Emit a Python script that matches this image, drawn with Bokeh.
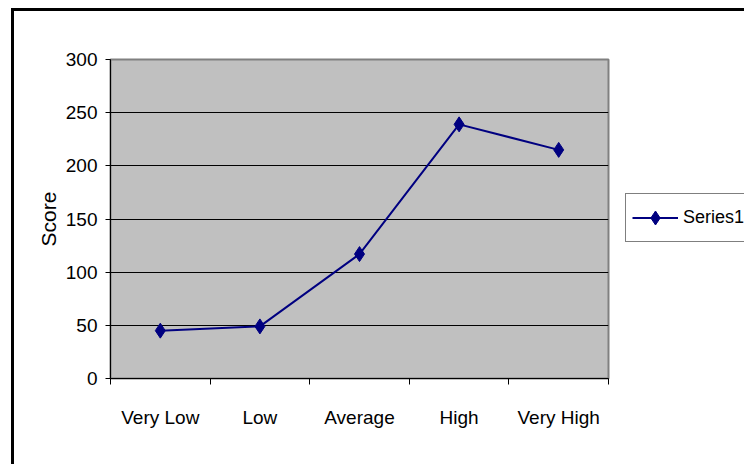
from bokeh.plotting import figure
from bokeh.layouts import row
from bokeh.models import (ColumnDataSource, FixedTicker, Legend, LegendItem,
                          Range1d)
from bokeh.embed import file_html
from bokeh.resources import INLINE

# Data
categories = ["Very Low", "Low", "Average", "High", "Very High"]
scores = [45, 49, 117, 239, 215]
y_ticks = [0, 50, 100, 150, 200, 250, 300]
series_name = "Series1"

FONT = "Liberation Sans"
NAVY = "#000080"

xs = [i + 0.5 for i in range(len(categories))]
src = ColumnDataSource(dict(x=xs, y=scores, cat=categories))

# Main plot
p = figure(width=604, height=453, output_backend="svg", toolbar_location=None,
           x_range=Range1d(0, len(categories)), y_range=Range1d(0, 300),
           min_border_left=96, min_border_right=10,
           min_border_top=48, min_border_bottom=86)

p.background_fill_color = "#C0C0C0"
p.border_fill_color = "white"
p.outline_line_color = "#808080"
p.outline_line_width = 2

# Category labels at centres, ticks at the boundaries between categories
p.xaxis.ticker = FixedTicker(ticks=xs, minor_ticks=list(range(len(categories) + 1)))
p.xaxis.major_label_overrides = {x: c for x, c in zip(xs, categories)}
p.xaxis.major_tick_line_color = None
p.xaxis.major_tick_out = 0
p.xaxis.major_tick_in = 0
p.xaxis.minor_tick_out = 6
p.xaxis.minor_tick_in = 0
p.xaxis.minor_tick_line_color = "black"
p.xaxis.major_label_standoff = 22
p.xaxis.axis_line_color = "black"

p.yaxis.ticker = FixedTicker(ticks=y_ticks)
p.yaxis.major_tick_out = 5
p.yaxis.major_tick_in = 0
p.yaxis.minor_tick_line_color = None
p.yaxis.major_label_standoff = 8
p.yaxis.axis_line_color = "black"
p.yaxis.axis_label = "Score"
p.yaxis.axis_label_text_font = FONT
p.yaxis.axis_label_text_font_size = "21px"
p.yaxis.axis_label_text_font_style = "normal"
p.yaxis.axis_label_text_color = "black"
p.yaxis.axis_label_standoff = 3

for ax in (p.xaxis, p.yaxis):
    ax.major_label_text_font = FONT
    ax.major_label_text_font_size = "19px"
    ax.major_label_text_color = "black"

p.xgrid.grid_line_color = None
p.ygrid.ticker = FixedTicker(ticks=y_ticks)
p.ygrid.grid_line_color = "black"
p.ygrid.grid_line_width = 1

p.line("x", "y", source=src, line_color=NAVY, line_width=2)
p.scatter("x", "y", source=src, marker="diamond", size=15,
          fill_color=NAVY, line_color=NAVY)

# Legend panel to the right of the plot
q = figure(width=126, height=453, output_backend="svg", toolbar_location=None,
           x_range=Range1d(0, 1), y_range=Range1d(0, 1),
           x_axis_type=None, y_axis_type=None,
           min_border_left=0, min_border_right=0,
           min_border_top=0, min_border_bottom=0)
q.outline_line_color = None
q.background_fill_color = "white"
q.border_fill_color = "white"
q.xgrid.grid_line_color = None
q.ygrid.grid_line_color = None

# Key glyphs sit outside the panel's range, so only the legend shows them
hidden = ColumnDataSource(dict(x=[5, 6], y=[5, 6]))
key_line = q.line("x", "y", source=hidden, line_color=NAVY, line_width=2)
key_pts = q.scatter("x", "y", source=hidden, marker="diamond", size=15,
                    fill_color=NAVY, line_color=NAVY)

legend = Legend(items=[LegendItem(label=series_name, renderers=[key_line, key_pts])],
                location=(7, 136), border_line_color="black",
                border_line_width=1, background_fill_color="white",
                background_fill_alpha=1, label_text_font=FONT,
                label_text_color="black",
                label_text_font_size="18px", glyph_width=46,
                glyph_height=35, padding=6, spacing=0, margin=0,
                label_standoff=5)
q.add_layout(legend, "center")

# Chart-area border on the left and top edges of the whole chart
layout = row(p, q)
layout.styles = {"border-left": "3px solid black", "border-top": "3px solid black",
                 "margin-left": "11px", "margin-top": "8px"}

open("out.html", "w").write(file_html(layout, INLINE))
